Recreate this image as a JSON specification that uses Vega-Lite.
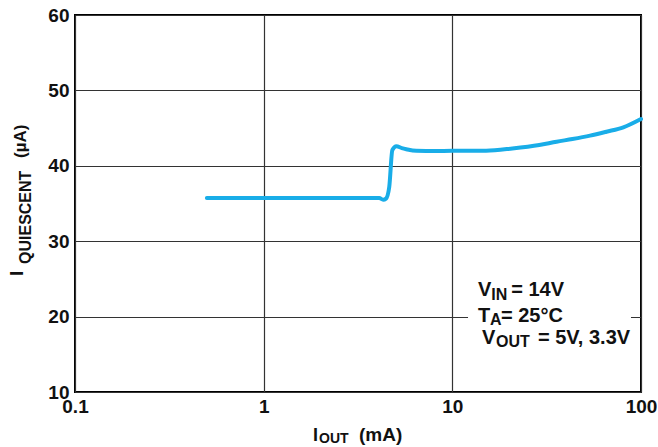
{
  "$schema": "https://vega.github.io/schema/vega-lite/v6.json",
  "autosize": {"type": "none"},
  "width": 566,
  "height": 377,
  "padding": {"left": 75, "top": 15, "right": 17, "bottom": 55},
  "background": "white",
  "config": {
    "view": {"stroke": "#000000", "strokeWidth": 2},
    "font": "Liberation Sans",
    "axis": {
      "domain": false,
      "ticks": false,
      "tickSize": 0,
      "grid": true,
      "gridColor": "#333333",
      "gridWidth": 1.2,
      "labelFont": "Liberation Sans",
      "labelFontWeight": "bold",
      "labelFontSize": 19,
      "labelColor": "#111111",
      "labelOverlap": false,
      "labelFlush": false,
      "title": null
    }
  },
  "data": {"values": [{}]},
  "datasets": {
    "curve": [
      {"iout": 0.5, "iq": 35.73},
      {"iout": 1, "iq": 35.73},
      {"iout": 2, "iq": 35.73},
      {"iout": 4.1, "iq": 35.72},
      {"iout": 4.3, "iq": 35.5},
      {"iout": 4.45, "iq": 35.65},
      {"iout": 4.63, "iq": 37.2},
      {"iout": 4.81, "iq": 42.1},
      {"iout": 5.05, "iq": 42.6},
      {"iout": 5.4, "iq": 42.35},
      {"iout": 5.7, "iq": 42.2},
      {"iout": 6.44, "iq": 41.98},
      {"iout": 8, "iq": 41.97},
      {"iout": 10, "iq": 41.98},
      {"iout": 15.1, "iq": 42.0},
      {"iout": 20.8, "iq": 42.3},
      {"iout": 28.9, "iq": 42.76},
      {"iout": 35.7, "iq": 43.2},
      {"iout": 43.3, "iq": 43.55},
      {"iout": 53.7, "iq": 44.0},
      {"iout": 65.6, "iq": 44.52},
      {"iout": 80.6, "iq": 45.1},
      {"iout": 100, "iq": 46.2}
    ]
  },
  "layer": [
    {
      "mark": {"type": "rect", "fill": "white", "stroke": null},
      "encoding": {
        "x": {"datum": 12.11, "type": "quantitative", "scale": {"type": "log", "domain": [0.1, 100], "nice": false},
              "axis": {"values": [0.1, 1, 10, 100], "format": "~g", "labelPadding": 5, "labelBaseline": "top"}},
        "x2": {"datum": 88.5},
        "y": {"datum": 15.7, "type": "quantitative", "scale": {"domain": [10, 60], "nice": false, "zero": false},
              "axis": {"values": [10, 20, 30, 40, 50, 60], "labelPadding": 6, "labelBaseline": "middle", "labelAlign": "right"}},
        "y2": {"datum": 25.5}
      }
    },
    {
      "data": {"name": "curve"},
      "mark": {"type": "line", "color": "#19ADE8", "strokeWidth": 4, "interpolate": "monotone", "strokeCap": "round", "strokeJoin": "round"},
      "encoding": {
        "x": {"field": "iout", "type": "quantitative"},
        "y": {"field": "iq", "type": "quantitative"}
      }
    },
    {
      "mark": {"type": "text", "text": "I", "font": "Liberation Sans", "fontWeight": "bold", "fontSize": 18, "align": "left", "baseline": "alphabetic", "color": "#111111"},
      "encoding": {"x": {"datum": 1.826, "type": "quantitative"}, "y": {"datum": 3.5, "type": "quantitative"}}
    },
    {
      "mark": {"type": "text", "text": "OUT", "font": "Liberation Sans", "fontWeight": "bold", "fontSize": 14, "align": "left", "baseline": "alphabetic", "color": "#111111"},
      "encoding": {"x": {"datum": 1.965, "type": "quantitative"}, "y": {"datum": 3.236, "type": "quantitative"}}
    },
    {
      "mark": {"type": "text", "text": "(mA)", "font": "Liberation Sans", "fontWeight": "bold", "fontSize": 19, "align": "left", "baseline": "alphabetic", "color": "#111111"},
      "encoding": {"x": {"datum": 3.2, "type": "quantitative"}, "y": {"datum": 3.5, "type": "quantitative"}}
    },
    {
      "mark": {"type": "text", "text": "I", "font": "Liberation Sans", "fontWeight": "bold", "fontSize": 19, "angle": 270, "align": "left", "baseline": "alphabetic", "color": "#111111"},
      "encoding": {"x": {"datum": 0.05302, "type": "quantitative"}, "y": {"datum": 25.38, "type": "quantitative"}}
    },
    {
      "mark": {"type": "text", "text": "QUIESCENT", "font": "Liberation Sans", "fontWeight": "bold", "fontSize": 16, "angle": 270, "align": "left", "baseline": "alphabetic", "color": "#111111"},
      "encoding": {"x": {"datum": 0.05845, "type": "quantitative"}, "y": {"datum": 26.98, "type": "quantitative"}}
    },
    {
      "mark": {"type": "text", "text": "(µA)", "font": "Liberation Sans", "fontWeight": "bold", "fontSize": 17, "angle": 270, "align": "left", "baseline": "alphabetic", "color": "#111111"},
      "encoding": {"x": {"datum": 0.05498, "type": "quantitative"}, "y": {"datum": 41.03, "type": "quantitative"}}
    },
    {
      "mark": {"type": "text", "text": "V", "font": "Liberation Sans", "fontWeight": "bold", "fontSize": 20, "align": "left", "baseline": "alphabetic", "color": "#111111"},
      "encoding": {"x": {"datum": 13.68, "type": "quantitative"}, "y": {"datum": 22.73, "type": "quantitative"}}
    },
    {
      "mark": {"type": "text", "text": "IN", "font": "Liberation Sans", "fontWeight": "bold", "fontSize": 16, "align": "left", "baseline": "alphabetic", "color": "#111111"},
      "encoding": {"x": {"datum": 16.1, "type": "quantitative"}, "y": {"datum": 22.2, "type": "quantitative"}}
    },
    {
      "mark": {"type": "text", "text": "= 14V", "font": "Liberation Sans", "fontWeight": "bold", "fontSize": 20, "align": "left", "baseline": "alphabetic", "color": "#111111"},
      "encoding": {"x": {"datum": 20.5, "type": "quantitative"}, "y": {"datum": 22.73, "type": "quantitative"}}
    },
    {
      "mark": {"type": "text", "text": "T", "font": "Liberation Sans", "fontWeight": "bold", "fontSize": 20, "align": "left", "baseline": "alphabetic", "color": "#111111"},
      "encoding": {"x": {"datum": 13.68, "type": "quantitative"}, "y": {"datum": 19.28, "type": "quantitative"}}
    },
    {
      "mark": {"type": "text", "text": "A", "font": "Liberation Sans", "fontWeight": "bold", "fontSize": 16, "align": "left", "baseline": "alphabetic", "color": "#111111"},
      "encoding": {"x": {"datum": 15.83, "type": "quantitative"}, "y": {"datum": 18.89, "type": "quantitative"}}
    },
    {
      "mark": {"type": "text", "text": "= 25°C", "font": "Liberation Sans", "fontWeight": "bold", "fontSize": 20, "align": "left", "baseline": "alphabetic", "color": "#111111"},
      "encoding": {"x": {"datum": 18.11, "type": "quantitative"}, "y": {"datum": 19.28, "type": "quantitative"}}
    },
    {
      "mark": {"type": "text", "text": "V", "font": "Liberation Sans", "fontWeight": "bold", "fontSize": 20, "align": "left", "baseline": "alphabetic", "color": "#111111"},
      "encoding": {"x": {"datum": 14.36, "type": "quantitative"}, "y": {"datum": 16.43, "type": "quantitative"}}
    },
    {
      "mark": {"type": "text", "text": "OUT", "font": "Liberation Sans", "fontWeight": "bold", "fontSize": 16, "align": "left", "baseline": "alphabetic", "color": "#111111"},
      "encoding": {"x": {"datum": 17.03, "type": "quantitative"}, "y": {"datum": 15.97, "type": "quantitative"}}
    },
    {
      "mark": {"type": "text", "text": "= 5V, 3.3V", "font": "Liberation Sans", "fontWeight": "bold", "fontSize": 20, "align": "left", "baseline": "alphabetic", "color": "#111111"},
      "encoding": {"x": {"datum": 28.44, "type": "quantitative"}, "y": {"datum": 16.43, "type": "quantitative"}}
    }
  ]
}
